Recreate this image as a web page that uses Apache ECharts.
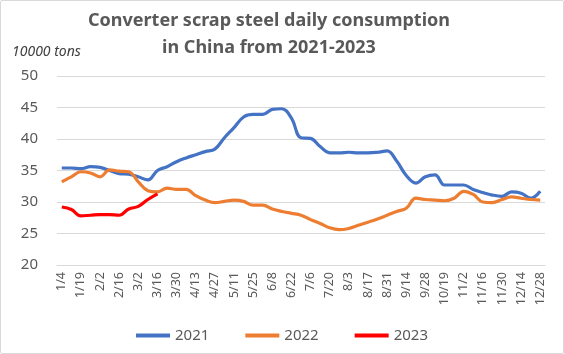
<!DOCTYPE html>
<html>
<head>
<meta charset="utf-8">
<script src="https://cdn.jsdelivr.net/npm/echarts@6/dist/echarts.min.js"></script>
<style>
  html, body { margin: 0; padding: 0; background: #fff; }
  #chart { width: 562px; height: 352px; border: 1px solid #d9d9d9; border-radius: 2px; }
</style>
</head>
<body>
<div id="chart"></div>
<script>
// weekly dates, only every other one is shown on the axis
var dates = ['1/4','1/11','1/19','1/26','2/2','2/9','2/16','2/23','3/2','3/9','3/16','3/23','3/30','4/6','4/13','4/20','4/27',
  '5/4','5/11','5/18','5/25','6/1','6/8','6/15','6/22','6/29','7/6','7/13','7/20','7/27','8/3','8/10','8/17','8/24','8/31',
  '9/7','9/14','9/21','9/28','10/12','10/19','10/26','11/2','11/9','11/16','11/23','11/30','12/7','12/14','12/21','12/28'];

var y2021 = [35.4,35.4,35.3,35.6,35.5,35.0,34.5,34.4,34.0,33.5,35.0,35.6,36.4,37.0,37.5,38.0,38.4,40.2,41.8,43.5,43.9,43.9,44.7,44.8,43.3,
  40.2,40.1,38.8,37.8,37.8,37.9,37.8,37.8,37.9,38.1,36.5,34.2,33.0,34.0,34.3,32.7,32.7,32.7,32.0,31.5,31.1,30.9,31.6,31.4,30.6,31.7];
var y2022 = [33.2,34.0,34.8,34.6,34.0,35.1,34.9,34.8,33.2,31.8,31.6,32.2,32.0,32.0,31.0,30.3,29.9,30.1,30.3,30.1,29.5,29.5,28.9,28.5,28.2,
  27.9,27.2,26.6,25.9,25.6,25.8,26.3,26.8,27.3,27.9,28.5,29.0,30.6,30.4,30.3,30.2,30.6,31.7,31.2,30.0,29.9,30.4,30.8,30.6,30.4,30.3];
var y2023 = [29.2,28.8,27.8,27.9,28.0,28.0,27.9,28.9,29.3,30.4,31.3];

var yTicks = { min: 20, max: 50, interval: 5 };

var chart = echarts.init(document.getElementById('chart'));

function line(name, data, color) {
  return {
    name: name,
    type: 'line',
    data: data,
    smooth: 0.4,
    symbol: 'none',
    lineStyle: { width: 3.2, color: color },
    itemStyle: { color: color }
  };
}

chart.setOption({
  animation: false,
  graphic: [{
    type: 'text',
    x: 268,
    y: 6,
    style: {
      text: 'Converter scrap steel daily consumption\nin China from 2021-2023',
      textAlign: 'center',
      font: 'bold 18px "Noto Sans"',
      lineHeight: 27,
      fill: '#595959'
    }
  }, {
    type: 'text',
    x: 11,
    y: 44,
    style: { text: '10000 tons', font: 'italic 14px "Noto Sans"', fill: '#404040' }
  }],
  legend: {
    bottom: 5,
    left: 'center',
    icon: 'rect',
    itemWidth: 34,
    itemHeight: 4,
    itemGap: 36,
    textStyle: { fontFamily: 'Noto Sans', fontSize: 15, color: '#595959' },
    data: ['2021', '2022', '2023']
  },
  grid: { left: 56, right: 18, top: 75, bottom: 88 },
  xAxis: {
    type: 'category',
    data: dates,
    boundaryGap: true,
    axisLine: { lineStyle: { color: '#d9d9d9' } },
    axisTick: { show: false },
    axisLabel: { interval: 1, rotate: 90, fontFamily: 'Noto Sans', fontSize: 12.5, color: '#595959', margin: 7 }
  },
  yAxis: {
    type: 'value',
    min: yTicks.min,
    max: yTicks.max,
    interval: yTicks.interval,
    axisLine: { show: false },
    axisTick: { show: false },
    axisLabel: { fontFamily: 'Noto Sans', fontSize: 15, color: '#595959', margin: 19 },
    splitLine: { lineStyle: { color: '#d9d9d9' } }
  },
  series: [
    line('2021', y2021, '#4472C4'),
    line('2022', y2022, '#ED7D31'),
    line('2023', y2023, '#FF0000')
  ]
});
</script>
</body>
</html>
